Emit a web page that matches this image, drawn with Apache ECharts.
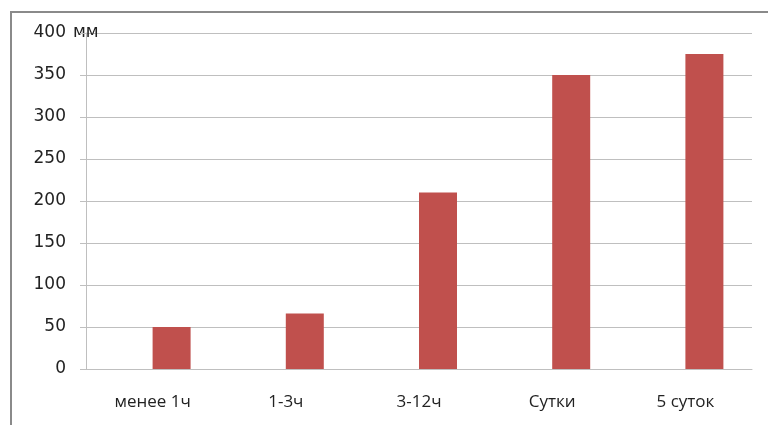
<!DOCTYPE html>
<html>
<head>
<meta charset="utf-8">
<script src="https://cdn.jsdelivr.net/npm/echarts@6/dist/echarts.min.js"></script>
<style>
  html, body { margin: 0; padding: 0; background: #fff; }
  #chart { width: 768px; height: 425px; }
</style>
</head>
<body>
<div id="chart"></div>
<script>
// данные с картинки
var categories = ['менее 1ч', '1-3ч', '3-12ч', 'Сутки', '5 суток']
// пустой ряд слева от красного (в оригинале бары сдвинуты вправо)
var emptyValues = ['-', '-', '-', '-', '-']
var values = [50, 66, 210, 350, 375]
var yTicks = { min: 0, max: 400, interval: 50 }

var chart = echarts.init(document.getElementById('chart'))
var gridColor = '#bfbfbf'

var options = {
  animation: false,
  grid: { left: 86, right: 16, top: 33, bottom: 56 },
  graphic: [
    {
      type: 'rect',
      shape: { x: 11, y: 12, width: 820, height: 500 },
      style: { fill: 'none', stroke: '#8a8a8a', lineWidth: 2 },
      silent: true
    }
  ],
  xAxis: {
    type: 'category',
    data: categories,
    axisLine: { lineStyle: { color: gridColor } },
    axisTick: { length: 6, lineStyle: { color: gridColor } },
    axisLabel: {
      margin: 25,
      color: '#222',
      fontFamily: 'Open Sans',
      fontSize: 17
    }
  },
  yAxis: {
    type: 'value',
    min: yTicks.min,
    max: yTicks.max,
    interval: yTicks.interval,
    name: 'мм',
    nameLocation: 'end',
    nameGap: 0,
    nameTextStyle: {
      align: 'left',
      verticalAlign: 'middle',
      color: '#222',
      fontFamily: 'DejaVu Sans',
      fontSize: 17,
      padding: [0, 0, 0, -13]
    },
    axisLine: { show: true, lineStyle: { color: gridColor } },
    axisTick: { show: true, length: 6, lineStyle: { color: gridColor } },
    splitLine: { lineStyle: { color: gridColor } },
    axisLabel: {
      margin: 20,
      color: '#222',
      fontFamily: 'DejaVu Sans',
      fontSize: 17
    }
  },
  series: [
    {
      type: 'bar',
      data: emptyValues,
      barWidth: 38,
      barGap: 0,
      itemStyle: { color: 'transparent' }
    },
    {
      type: 'bar',
      data: values,
      barWidth: 38,
      barGap: 0,
      itemStyle: { color: '#C0504D' }
    }
  ]
}
chart.setOption(options)
</script>
</body>
</html>
